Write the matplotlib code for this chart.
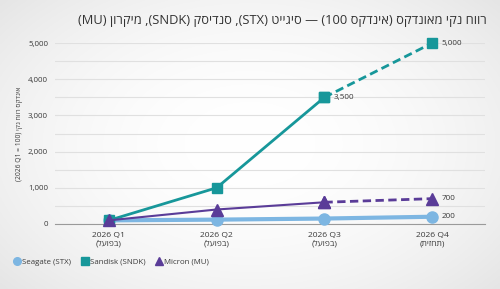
import re
import numpy as np
import matplotlib.pyplot as plt
from matplotlib.ticker import FuncFormatter, MultipleLocator
from matplotlib.lines import Line2D

plt.rcParams['font.family'] = ['Open Sans', 'DejaVu Sans']

quarters = ['2026 Q1', '2026 Q2', '2026 Q3', '2026 Q4']
status = ['(בפועל)', '(בפועל)', '(בפועל)', '(תחזית)']
seagate = [100, 120, 150, 200]
sandisk = [100, 1000, 3500, 5000]
micron = [100, 400, 600, 700]
n_actual = 3  # first three quarters are actual, the last one is a forecast

title = 'רווח נקי מאונדקס (אינדקס 100) — סיגייט (STX), סנדיסק (SNDK), מיקרון (MU)'
ylabel = 'אינדקס רווח נקי (2026 Q1 = 100)'
names = ['Seagate (STX)', 'Sandisk (SNDK)', 'Micron (MU)']

MIRROR = str.maketrans('()', ')(')


def bidi(s):
    # crude visual reordering for a right-to-left line (matplotlib has no bidi)
    parts = re.split(r'([A-Za-z0-9](?:[A-Za-z0-9 =.,:]*[A-Za-z0-9])?)', s)
    out = []
    for i, p in enumerate(parts):
        out.append(p if i % 2 else p[::-1].translate(MIRROR))
    return ''.join(reversed(out))


fig = plt.figure(figsize=(5, 2.89), dpi=100)

# soft vignette background
bg = fig.add_axes([0, 0, 1, 1], zorder=-1)
yy, xx = np.mgrid[-1:1:200j, -1:1:300j]
r = np.sqrt((xx * 0.9) ** 2 + (yy * 0.8) ** 2)
shade = 1.0 - 0.07 * np.clip(r, 0, 1.4) ** 2
bg.imshow(np.dstack([shade, shade, shade]), aspect='auto', extent=[0, 1, 0, 1])
bg.axis('off')

ax = fig.add_axes([0.11, 0.225, 0.86, 0.626])
ax.patch.set_alpha(0)
x = np.arange(len(quarters))

c_stx = '#7db6e2'
c_sndk = '#17979a'
c_mu = '#5a3c98'
c_txt = '#3a3a3a'

ax.plot(x, seagate, color=c_stx, lw=3, marker='o', ms=8, zorder=3, clip_on=False)
ax.plot(x[:n_actual], sandisk[:n_actual], color=c_sndk, lw=2, marker='s', ms=7.5, zorder=4, clip_on=False)
ax.plot(x[n_actual - 1:], sandisk[n_actual - 1:], color=c_sndk, lw=2, ls=(0, (3, 1.6)), marker='s', ms=7.5, zorder=4, clip_on=False)
ax.plot(x[:n_actual], micron[:n_actual], color=c_mu, lw=1.5, marker='^', ms=8, zorder=5, clip_on=False)
ax.plot(x[n_actual - 1:], micron[n_actual - 1:], color=c_mu, lw=2, ls=(0, (3, 1.6)), marker='^', ms=8, zorder=5, clip_on=False)

for xi, v in [(3, sandisk[3]), (2, sandisk[2]), (3, micron[3]), (3, seagate[3])]:
    ax.annotate(f'{v:,}', (xi, v), xytext=(7, 0), textcoords='offset points',
                fontsize=5.9, color=c_txt, va='center', ha='left')

ax.set_xlim(-0.5, 3.49)
ax.set_ylim(0, 5000)
ax.yaxis.set_major_locator(MultipleLocator(1000))
ax.yaxis.set_minor_locator(MultipleLocator(500))
ax.yaxis.set_major_formatter(FuncFormatter(lambda v, p: f'{int(v):,}'))
ax.grid(axis='y', which='both', color='#e0e0e0', lw=0.8)
ax.set_axisbelow(True)
for s in ['top', 'right', 'left']:
    ax.spines[s].set_visible(False)
ax.spines['bottom'].set_color('#9a9a9a')
ax.spines['bottom'].set_linewidth(0.8)
ax.tick_params(axis='both', which='both', length=0, colors=c_txt)
ax.tick_params(axis='y', pad=5, labelsize=5.7)
ax.tick_params(axis='x', pad=6, labelsize=6.1)
ax.set_xticks(x)
ax.set_xticklabels([f'{q}\n{bidi(s)}' for q, s in zip(quarters, status)], linespacing=1.15)
ax.set_ylabel(bidi(ylabel), fontsize=4.9, color=c_txt)
ax.yaxis.set_label_coords(-0.074, 0.5)

fig.text(0.974, 0.93, bidi(title), ha='right', va='center', fontsize=9.3, color='#333333')

handles = [
    Line2D([], [], ls='none', marker='o', ms=5.5, color=c_stx),
    Line2D([], [], ls='none', marker='s', ms=5.5, color=c_sndk),
    Line2D([], [], ls='none', marker='^', ms=5.5, color=c_mu),
]
fig.legend(handles, names, loc='center left', bbox_to_anchor=(0.012, 0.094), ncol=3,
           frameon=False, fontsize=5.7, handletextpad=0.15, columnspacing=1.2,
           handlelength=1.0, labelcolor=c_txt)

fig.savefig('out.png', dpi=100)
